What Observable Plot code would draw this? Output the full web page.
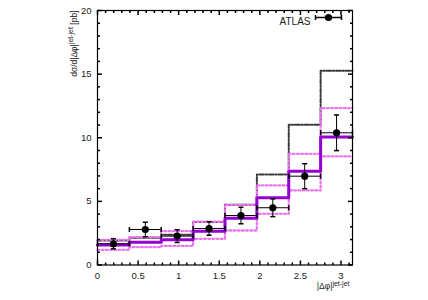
<!DOCTYPE html>
<html><head><meta charset="utf-8">
<script src="https://cdn.jsdelivr.net/npm/d3@7"></script>
<script src="https://cdn.jsdelivr.net/npm/@observablehq/plot@0.6"></script>
<style>
body{margin:0;background:#fff;}
svg{font-family:"Liberation Sans",Arial,sans-serif;}
</style></head>
<body><div id="chart"></div>
<script>
// bin edges of |Δφ| (8 bins of π/8)
const binEdges = [0, 0.3927, 0.7854, 1.1781, 1.5708, 1.9635, 2.3562, 2.7489, 3.1416];
// ATLAS data
const dataY   = [1.67, 2.79, 2.27, 2.87, 3.89, 4.50, 6.98, 10.39];
const dataErr = [0.40, 0.57, 0.50, 0.53, 0.65, 0.70, 0.98, 1.40];
// theory: purple solid (central), magenta dotted (band), gray dash-dot
const purple  = [1.57, 1.79, 1.98, 2.66, 3.68, 5.28, 7.37, 10.05];
const bandUp  = [1.98, 2.19, 2.66, 3.40, 4.73, 6.25, 8.74, 12.33];
const bandLo  = [1.19, 1.40, 1.50, 2.06, 2.71, 4.02, 5.86, 8.53];
const grayDD  = [1.92, 2.14, 2.37, 3.37, 4.73, 7.11, 11.02, 15.27];
// ticks
const xMajor = [0, 0.5, 1, 1.5, 2, 2.5, 3];
const xMinor = [0.1,0.2,0.3,0.4,0.6,0.7,0.8,0.9,1.1,1.2,1.3,1.4,1.6,1.7,1.8,1.9,2.1,2.2,2.3,2.4,2.6,2.7,2.8,2.9,3.1];
const yMajor = [0, 5, 10, 15, 20];
const yMinor = [1,2,3,4,6,7,8,9,11,12,13,14,16,17,18,19];

function steps(vals){
  const pts = vals.map((v,i)=>({x:binEdges[i], y:v}));
  pts.push({x:binEdges[vals.length], y:vals[vals.length-1]});
  return pts;
}
const pts = dataY.map((v,i)=>({x:(binEdges[i]+binEdges[i+1])/2, x1:binEdges[i], x2:binEdges[i+1], y:v, lo:v-dataErr[i], hi:v+dataErr[i]}));

function lineSym(dx1,dy1,dx2,dy2){
  return {draw(ctx){ctx.moveTo(dx1,dy1);ctx.lineTo(dx2,dy2);}};
}
const capV = lineSym(0,-2.5,0,2.5);
const capH = lineSym(-2.5,0,2.5,0);
const tR = (L)=>lineSym(0,0,L,0), tL=(L)=>lineSym(0,0,-L,0), tU=(L)=>lineSym(0,0,0,-L), tD=(L)=>lineSym(0,0,0,L);
const legendBar = {draw(ctx){
  ctx.moveTo(-13,0);ctx.lineTo(13,0);
  ctx.moveTo(-13,-2.5);ctx.lineTo(-13,2.5);
  ctx.moveTo(13,-2.5);ctx.lineTo(13,2.5);
  ctx.moveTo(0,-2.5);ctx.lineTo(0,2.5);
}};

const txt = "#222";
const magenta = "#ec74ec";
const plot = Plot.plot({
  width: 428, height: 300,
  marginLeft: 97, marginRight: 76, marginTop: 10, marginBottom: 35.5,
  x: {domain: [0, Math.PI]},
  y: {domain: [0, 20]},
  style: {fontSize: "9.5px", color: txt, background: "#fff"},
  marks: [
    Plot.axisX({ticks: xMajor, tickSize: 0, tickPadding: 7, tickFormat: d=>String(d), label: null}),
    Plot.axisY({ticks: yMajor, tickSize: 0, tickPadding: 6, tickFormat: d=>String(d), label: null}),
    // step histograms
    Plot.line(steps(grayDD), {x:"x", y:"y", curve:"step-after", stroke:"#3a3a3a", strokeWidth:2, strokeDasharray:"4.5,1.8,1.4,1.8"}),
    Plot.line(steps(bandUp), {x:"x", y:"y", curve:"step-after", stroke:magenta, strokeWidth:2.3, strokeDasharray:"1.8,2.4"}),
    Plot.line(steps(bandLo), {x:"x", y:"y", curve:"step-after", stroke:magenta, strokeWidth:2.3, strokeDasharray:"1.8,2.4"}),
    Plot.line(steps(purple), {x:"x", y:"y", curve:"step-after", stroke:"#9400d3", strokeWidth:3}),
    // data error bars
    Plot.link(pts, {x1:"x1", x2:"x2", y1:"y", y2:"y", stroke:"#000", strokeWidth:1}),
    Plot.link(pts, {x1:"x", x2:"x", y1:"lo", y2:"hi", stroke:"#000", strokeWidth:1}),
    Plot.dot(pts, {x:"x1", y:"y", symbol: capV, stroke:"#000", fill:"none", r:3}),
    Plot.dot(pts, {x:"x2", y:"y", symbol: capV, stroke:"#000", fill:"none", r:3}),
    Plot.dot(pts, {x:"x", y:"lo", symbol: capH, stroke:"#000", fill:"none", r:3}),
    Plot.dot(pts, {x:"x", y:"hi", symbol: capH, stroke:"#000", fill:"none", r:3}),
    Plot.dot(pts, {x:"x", y:"y", r:3.6, fill:"#000"}),
    // inner ticks on all four sides
    Plot.dot(yMajor, {y:d=>d, frameAnchor:"left", symbol:tR(4.5), stroke:"#000", fill:"none"}),
    Plot.dot(yMinor, {y:d=>d, frameAnchor:"left", symbol:tR(2.5), stroke:"#000", fill:"none"}),
    Plot.dot(yMajor, {y:d=>d, frameAnchor:"right", symbol:tL(4.5), stroke:"#000", fill:"none"}),
    Plot.dot(yMinor, {y:d=>d, frameAnchor:"right", symbol:tL(2.5), stroke:"#000", fill:"none"}),
    Plot.dot(xMajor, {x:d=>d, frameAnchor:"bottom", symbol:tU(4.5), stroke:"#000", fill:"none"}),
    Plot.dot(xMinor, {x:d=>d, frameAnchor:"bottom", symbol:tU(2.5), stroke:"#000", fill:"none"}),
    Plot.dot(xMajor, {x:d=>d, frameAnchor:"top", symbol:tD(4.5), stroke:"#000", fill:"none"}),
    Plot.dot(xMinor, {x:d=>d, frameAnchor:"top", symbol:tD(2.5), stroke:"#000", fill:"none"}),
    Plot.frame({stroke:"#000", strokeWidth:1.2}),
    // legend
    Plot.text(["ATLAS"], {frameAnchor:"top-right", dx:-42, dy:7, textAnchor:"end", fill:txt, fontSize:10}),
    Plot.dot(["ATLAS"], {frameAnchor:"top-right", dx:-24, dy:7, symbol: legendBar, stroke:"#000", fill:"none"}),
    Plot.dot(["ATLAS"], {frameAnchor:"top-right", dx:-24, dy:7, r:3.6, fill:"#000"}),
    // axis titles
    Plot.text(["ylab"], {frameAnchor:"top-left", dx:-27, dy:0, rotate:-90, textAnchor:"end", fill:txt, fontSize:8.5, className:"ylab", text:()=>"dσ/d|Δφ|jet-jet [pb]"}),
    Plot.text(["xlab"], {frameAnchor:"bottom-right", dx:-3, dy:24, textAnchor:"end", fill:txt, fontSize:8.5, className:"xlab", text:()=>"|Δφ|jet-jet"})
  ]
});
document.getElementById("chart").appendChild(plot);
// superscripts
d3.select(plot).select(".ylab text").each(function(){
  const t = d3.select(this); t.text(null);
  t.append("tspan").text("dσ/d|Δφ|");
  t.append("tspan").attr("dy","-3.5").attr("font-size","7").text("jet-jet");
  t.append("tspan").attr("dy","3.5").text(" [pb]");
});
d3.select(plot).select(".xlab text").each(function(){
  const t = d3.select(this); t.text(null);
  t.append("tspan").text("|Δφ|");
  t.append("tspan").attr("dy","-3.5").attr("font-size","7").text("jet-jet");
});
</script></body></html>
